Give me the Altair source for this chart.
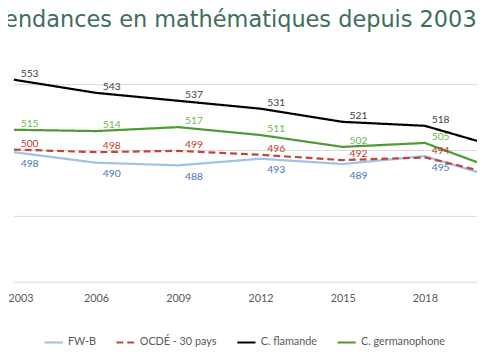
import altair as alt
import pandas as pd

years = [2003, 2006, 2009, 2012, 2015, 2018, 2022]
series = ["FW-B", "OCDÉ - 30 pays", "C. flamande", "C. germanophone"]
fwb = [498, 490, 488, 493, 489, 495, 476]
ocde = [500, 498, 499, 496, 492, 494, 479]
flamande = [553, 543, 537, 531, 521, 518, 500]
germano = [515, 514, 517, 511, 502, 505, 482]

line_colors = ["#9dc3e6", "#c0463c", "#000000", "#4f9a33"]
label_colors = ["#4472c4", "#c0392b", "#404040", "#70b84f"]
dashes = [[1, 0], [7, 4], [1, 0], [1, 0]]
label_dy = [12, -6, -6, -6]
visible_years = [str(y) for y in years[:-1]]  # 2022 lies past the right edge

rows = []
for name, vals in zip(series, [fwb, ocde, flamande, germano]):
    for yr, v in zip(years, vals):
        rows.append({"annee": str(yr), "score": v, "serie": name})
df = pd.DataFrame(rows)

year_labels = [str(y) for y in years]

x_enc = alt.X(
    "annee:O",
    sort=year_labels,
    scale=alt.Scale(type="point", range=[6, 507.6], padding=0),
    axis=alt.Axis(title=None, labelAngle=0, ticks=False, domain=False,
                  values=visible_years, labelFlush=True, labelFlushOffset=6,
                  labelFont="Lato", labelFontSize=11, labelColor="#595959",
                  labelPadding=12, grid=False),
)
y_enc = alt.Y(
    "score:Q",
    scale=alt.Scale(domain=[400, 575], nice=False, zero=False),
    axis=alt.Axis(title=None, labels=False, ticks=False, domain=False,
                  values=[400, 450, 500, 550], grid=True,
                  gridColor="#d9d9d9", gridWidth=1),
)

leg = alt.Legend(title=None, orient="none", legendX=36, legendY=286,
                 direction="horizontal", symbolType="stroke", symbolSize=340,
                 symbolStrokeWidth=2.25, labelFont="Lato", labelFontSize=11,
                 labelColor="#595959", columnPadding=15, labelOffset=4)

lines = alt.Chart(df).mark_line(clip=True, strokeWidth=2.25).encode(
    x=x_enc,
    y=y_enc,
    color=alt.Color("serie:N", sort=series,
                    scale=alt.Scale(domain=series, range=line_colors), legend=leg),
    strokeDash=alt.StrokeDash("serie:N", sort=series,
                              scale=alt.Scale(domain=series, range=dashes), legend=leg),
)

text_layers = []
for name, col, dy in zip(series, label_colors, label_dy):
    t = alt.Chart(df).transform_filter(
        (alt.datum.serie == name) & (alt.datum.annee != "2022")
    ).mark_text(
        dx=16, dy=dy, color=col, font="Lato", fontSize=10.5, clip=True,
        align="center", baseline="middle",
    ).encode(x=x_enc, y=y_enc, text="score:Q")
    text_layers.append(t)

chart = alt.layer(lines, *text_layers).properties(
    width=477,
    height=234.5,
    autosize=alt.AutoSizeParams(type="none"),
    padding={"left": 0, "top": 40.5, "right": 0, "bottom": 70},
    title=alt.Title("Tendances en mathématiques depuis 2003", anchor="start",
                    frame="group", dx=-14.0, offset=1.5, baseline="alphabetic",
                    font="DejaVu Sans", fontSize=22.8, fontWeight="normal",
                    color="#3f6e5c"),
).configure_view(stroke=None)

chart.save("out.html", embed_options={"renderer": "svg", "actions": False})
